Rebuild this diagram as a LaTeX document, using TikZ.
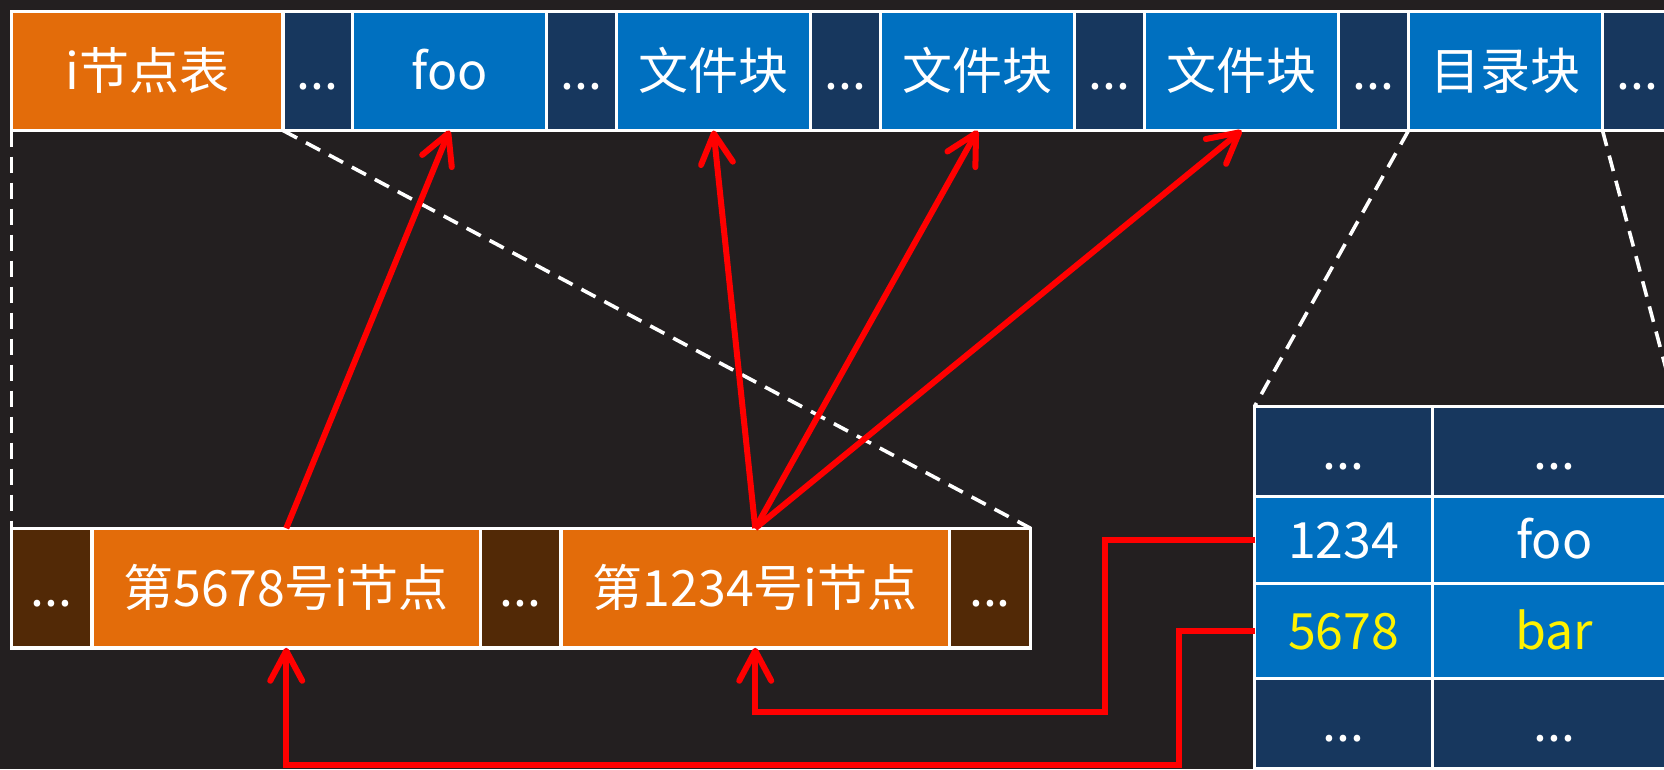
\documentclass[tikz,border=0pt]{standalone}
\usepackage{fontspec}
\setmainfont{Noto Sans CJK SC}
\usetikzlibrary{arrows.meta}
\definecolor{bgc}{RGB}{35,31,32}
\definecolor{orangec}{RGB}{227,108,10}
\definecolor{navyc}{RGB}{23,55,94}
\definecolor{bluec}{RGB}{0,112,192}
\definecolor{brownc}{RGB}{82,41,6}
\begin{document}
\begin{tikzpicture}[x=1pt,y=-1pt,
  cell/.style={draw=white, line width=3.5pt, outer sep=0pt, inner sep=0pt,
    text=white, text height=36pt, text depth=0pt,
    font=\fontsize{50}{60}\selectfont},
  toprow/.style={cell, minimum height=119pt},
  botrow/.style={cell, minimum height=119.5pt},
  orangecell/.style={fill=orangec},
  navycell/.style={fill=navyc},
  bluecell/.style={fill=bluec},
  browncell/.style={fill=brownc},
  zoomline/.style={draw=white, line width=3.6pt, dash pattern=on 16pt off 10pt},
  redarrow/.style={draw=red, line width=6pt, line join=miter,
    -{Straight Barb[length=30pt,width=32pt,round]}}
]
\fill[bgc] (0,0) rectangle (1664,769);
\useasboundingbox (0,0) rectangle (1664,769);

% top row
\node[toprow, orangecell, minimum width=271.5pt] (itab) at (147.25,71) {i节点表};
\node[toprow, navycell, minimum width=69.5pt] (d1) at (317.75,71) {...};
\node[toprow, bluecell, minimum width=194pt] (foo) at (449.5,71) {foo};
\node[toprow, navycell, minimum width=70pt] (d2) at (581.5,71) {...};
\node[toprow, bluecell, minimum width=194pt] (f1) at (713.5,71) {文件块};
\node[toprow, navycell, minimum width=70pt] (d3) at (845.5,71) {...};
\node[toprow, bluecell, minimum width=194pt] (f2) at (977.5,71) {文件块};
\node[toprow, navycell, minimum width=70pt] (d4) at (1109.5,71) {...};
\node[toprow, bluecell, minimum width=194pt] (f3) at (1241.5,71) {文件块};
\node[toprow, navycell, minimum width=70pt] (d5) at (1373.5,71) {...};
\node[toprow, bluecell, minimum width=194pt] (dir) at (1505.5,71) {目录块};
\node[toprow, navycell, minimum width=70pt] (d6) at (1637.5,71) {...};

% bottom row (inode table zoom)
\node[botrow, browncell, minimum width=80.5pt] (b1) at (51.75,588) {...};
\node[botrow, orangecell, minimum width=388.5pt] (n5678) at (286.25,588) {第5678号i节点};
\node[botrow, browncell, minimum width=80.5pt] (b2) at (520.75,588) {...};
\node[botrow, orangecell, minimum width=388.5pt] (n1234) at (755.25,588) {第1234号i节点};
\node[botrow, browncell, minimum width=81pt] (b3) at (990,588) {...};

% directory table
\node[cell, navycell, minimum width=178pt, minimum height=90pt] (t11) at (1343.5,451.5) {...};
\node[cell, navycell, minimum width=243.5pt, minimum height=90pt] (t12) at (1554.25,451.5) {...};
\node[cell, bluecell, minimum width=178pt, minimum height=87pt] (t21) at (1343.5,540) {1234};
\node[cell, bluecell, minimum width=243.5pt, minimum height=87pt] (t22) at (1554.25,540) {foo};
\node[cell, bluecell, minimum width=178pt, minimum height=95pt, text=yellow] (t31) at (1343.5,631) {5678};
\node[cell, bluecell, minimum width=243.5pt, minimum height=95pt, text=yellow] (t32) at (1554.25,631) {bar};
\node[cell, navycell, minimum width=178pt, minimum height=90pt] (t41) at (1343.5,723.5) {...};
\node[cell, navycell, minimum width=243.5pt, minimum height=90pt] (t42) at (1554.25,723.5) {...};

% zoom guide lines
\draw[zoomline] (itab.south west) -- (b1.north west);
\draw[zoomline] (itab.south east) -- (b3.north east);
\draw[zoomline] (dir.south west) -- (t11.north west);
\draw[zoomline] (dir.south east) -- (t12.north east);

% inode -> blocks
\draw[redarrow] (n5678.north) -- (foo.south);
\draw[redarrow] (n1234.north) -- (f1.south);
\draw[redarrow] (n1234.north) -- (f2.south);
\draw[redarrow] (n1234.north) -- (f3.south);

% directory entries -> inodes
\draw[redarrow] (t21.west) -- ++(-149.5,0) -- ++(0,172) -| (n1234.south);
\draw[redarrow] (t31.west) -- ++(-75.5,0) -- ++(0,134) -| (n5678.south);
\end{tikzpicture}
\end{document}
